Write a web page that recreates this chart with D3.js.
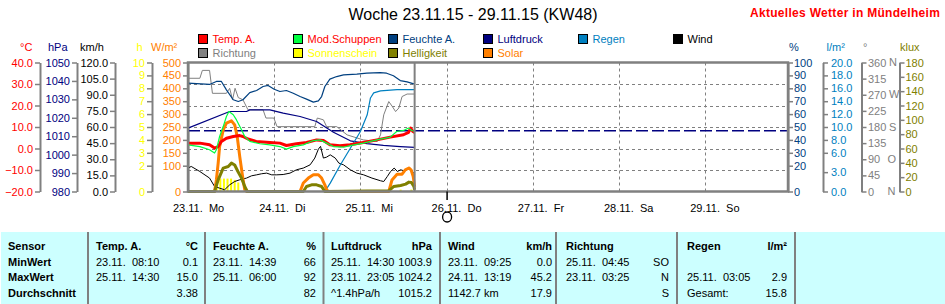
<!DOCTYPE html>
<html>
<head>
<meta charset="utf-8">
<script src="https://cdn.jsdelivr.net/npm/d3@7/dist/d3.min.js"></script>
<style>
  body { margin: 0; background: #fff; }
  svg { display: block; }
</style>
</head>
<body>
<div id="chart"></div>
<script>
///data: [hours since 23.11. 00:00, value]
var tempA = [[0,2.5],[3.3,2.5],[6,1.7],[7.4,0.2],[8.4,0.9],[9.3,3.3],[10.7,4.8],[12.6,5.6],[14.4,6.0],[15.3,5.6],[16.7,4.4],[19,3.3],[22.8,2.8],[25.6,2.5],[27.4,1.4],[30.2,2.2],[33,2.8],[35.8,4.0],[37.7,3.7],[39.5,1.7],[42.3,1.3],[45.1,1.7],[48.8,2.8],[52.6,4.0],[56.3,5.3],[60,6.4],[61.4,7.5],[62,9.5],[62.6,7.9],[63.1,7.5]];
var modSchuppen = [[0,1.7],[3.3,0.9],[6,-0.6],[7.4,-2.1],[7.9,-0.6],[8.8,5.6],[9.8,10.2],[10.7,14.9],[11.4,17.2],[12.6,15.7],[13.5,13.3],[14.9,8.7],[15.8,5.6],[17.2,3.3],[20,2.2],[22.8,1.7],[25.6,0.9],[27.4,-0.3],[29.3,0.9],[32.1,1.7],[34.9,3.7],[36.7,4.0],[38.6,2.5],[40.5,0.9],[43.3,0.6],[45.1,1.3],[48.8,2.5],[52.6,4.0],[56.3,5.3],[58.1,7.9],[60,8.4],[61.4,9.5],[62.3,8.4],[63.1,7.9]];
var feuchteA = [[0,84],[6,83],[7.9,85.3],[9.3,85.3],[10.7,78.8],[12.6,71.1],[14,69.8],[15.3,71.1],[17.2,76.7],[19.1,78.3],[20.9,81.4],[22.3,82.2],[24,79.3],[25.6,77.5],[27.4,78.3],[29.3,76.2],[31.2,73.6],[33,71.6],[34.9,69.3],[36.3,70.3],[37.2,73.6],[38.1,81.4],[39.5,87.1],[41.4,89.1],[43.3,90.4],[47,91],[49.8,91.7],[53.5,92.2],[55.3,91.7],[57.2,89.7],[59.1,86],[61,85],[63.1,83.2]];
var luftdruck = [[0,1014.4],[11.6,1023.4],[16.3,1023.4],[17.2,1024.3],[22.8,1024.3],[26.5,1022.5],[31.2,1020.7],[35.8,1018.0],[40.5,1012.2],[45.2,1007.5],[49.8,1006],[54.4,1005],[59.1,1004.4],[63.1,1003.9]];
var regen = [[0,0],[38.1,0],[39.6,1.3],[42.4,4.1],[45.2,6.7],[48,9.3],[49.9,11.9],[50.8,14.5],[51.7,15.3],[53.6,15.6],[58.2,15.8],[63.1,15.8]];
var wind = [[0,21.8],[0.9,23.3],[3.3,18.6],[6,12.5],[7.4,4.7],[8.8,3.1],[10.2,1.6],[11.6,6.2],[13,9.3],[14.4,10.9],[16.3,12.5],[17.7,14.6],[19.1,15.5],[20.5,16.5],[21.9,17.1],[23.3,15.5],[24.7,15.5],[26.5,15.8],[28.4,17.1],[30.2,20.2],[32.1,21.8],[34,24.8],[35.3,31.1],[36.3,39.4],[36.9,42],[37.7,31.1],[38.6,32],[39.6,34.1],[41,31.1],[42,26.4],[43.3,24.8],[45.2,20.2],[47,17.1],[48.9,15.5],[51.2,12.5],[53.6,10],[54.5,9.3],[55.5,14],[56.4,18.6],[57.4,21.8],[58.3,18.6],[59.2,20.2],[60.1,19.3],[61.1,21.1],[62,20.2],[63.1,16.2]];
var richtung = [[0,316],[3.3,316],[4,338],[6,338],[6.8,274],[10.7,274],[11.6,288],[12.4,256],[13.1,288],[14,262],[15.3,256],[16.7,228],[20.9,228],[21.7,205],[23.9,205],[24.8,181],[35.3,181],[36,205],[37.7,200],[38.6,181],[41.4,181],[44.3,158],[48.8,144],[52.7,139.5],[53.6,158],[54.5,214],[55.9,251],[56.9,237],[57.8,223],[58.7,233],[59.6,265],[61,272],[63.1,272]];
var solar = [[0,0],[7.4,0],[7.9,45],[8.4,110],[8.8,174],[9.8,239],[10.7,265],[12.1,274],[13,258],[13.7,213],[14.4,136],[15.2,58],[15.8,7],[16.3,0],[31.2,0],[32.1,33],[33.5,52],[34.9,65],[36.3,65],[37.2,52],[38.1,26],[38.6,7],[39.1,0],[55.9,0],[56.8,45],[58.2,67],[59.6,67],[60.5,84],[61.5,91],[62.1,84],[62.7,58],[63.1,19]];
var helligkeit = [[0,0],[7.4,0],[8.4,16.3],[9.8,32.6],[11.2,34.9],[12.1,39.6],[13,37],[13.9,27.9],[14.9,18.7],[15.8,7],[16.5,0],[32.1,0],[33,7],[34.4,9.3],[35.8,9.3],[37.2,7],[38.1,0],[55.9,1],[57.3,7],[59.2,8.4],[60.6,10.3],[61.5,13.1],[62.2,12.6],[62.9,7],[63.1,2.4]];
var sonnenschein = [[8,0.6],[9,1.0],[10,1.0],[11,1.0],[12,1.0],[13,0.9],[14,0.7],[59.2,0.15],[62.2,0.15]];

var dayLabels = ["23.11. Mo","24.11. Di","25.11. Mi","26.11. Do","27.11. Fr","28.11. Sa","29.11. So"];
var nowHour = 63.1;
var normalPressure = 1013;

var tableHeads = ["Sensor","Temp. A.","Feuchte A.","Luftdruck","Wind","Richtung","Regen"];
var tableUnits = ["","°C","%","hPa","km/h","","l/m²"];
var rowNames = ["MinWert","MaxWert","Durchschnitt"];
var rowTimes = [
  ["23.11.  08:10","23.11.  14:39","25.11.  14:30","23.11.  09:25","25.11.  04:45",""],
  ["25.11.  14:30","25.11.  06:00","23.11.  23:05","24.11.  13:19","23.11.  03:25","25.11.  03:05"],
  ["","","^1.4hPa/h","1142.7 km","","Gesamt:"]];
var rowValues = [
  ["0.1","66","1003.9","0.0","SO",""],
  ["15.0","92","1024.2","45.2","N","2.9"],
  ["3.38","82","1015.2","17.9","S","15.8"]];

///layout
var width = 945, height = 304;
var font = '"Liberation Sans", Arial, sans-serif';
var gray = '#808080';
var plotLeft = 188, plotRight = 788, plotTop = 62.5, plotBottom = 191.5;

var svg = d3.select('#chart').append('svg')
    .attr('width', width).attr('height', height)
    .style('font-family', font).style('font-size', '11px');

var x = d3.scaleLinear().domain([0, 168]).range([188, 791.4]);
var yRange = [plotBottom, plotTop];
var yTemp = d3.scaleLinear().domain([-20, 40]).range(yRange);
var yHpa = d3.scaleLinear().domain([980, 1050]).range(yRange);
var yKmh = d3.scaleLinear().domain([0, 120]).range(yRange);
var yHours = d3.scaleLinear().domain([0, 10]).range(yRange);
var ySolar = d3.scaleLinear().domain([0, 500]).range(yRange);
var yHum = d3.scaleLinear().domain([0, 100]).range(yRange);
var yRain = d3.scaleLinear().domain([0, 20]).range(yRange);
var yDir = d3.scaleLinear().domain([0, 360]).range(yRange);
var yLux = d3.scaleLinear().domain([0, 180]).range(yRange);

///title
svg.append('text').attr('x', 473).attr('y', 20).attr('text-anchor', 'middle')
    .style('font-size', '16px').text('Woche 23.11.15 - 29.11.15 (KW48)');
svg.append('text').attr('x', 750).attr('y', 17)
    .style('font-size', '12px').style('font-weight', 'bold').style('letter-spacing', '0.3px')
    .attr('fill', '#ff0000').text('Aktuelles Wetter in Mündelheim');

///legend
var legend = [
  ['Temp. A.', '#ff0000', '#ff0000'], ['Mod.Schuppen', '#00ff40', '#ff0000'], ['Feuchte A.', '#004080', '#004080'],
  ['Luftdruck', '#000080', '#000080'], ['Regen', '#0080c0', '#0080c0'], ['Wind', '#000000', '#000000'],
  ['Richtung', gray, gray], ['Sonnenschein', '#ffff00', '#ffff00'], ['Helligkeit', '#808000', '#808000'],
  ['Solar', '#ff8000', '#ff8000']];
var lg = svg.selectAll('g.legend').data(legend).enter().append('g').attr('class', 'legend')
    .attr('transform', (d, i) => `translate(${198 + (i % 6) * 95},${i < 6 ? 34 : 48})`);
lg.append('rect').attr('x', 0.5).attr('y', 0.5).attr('width', 9).attr('height', 9)
    .attr('fill', d => d[1]).attr('stroke', '#000');
lg.append('text').attr('x', 14.5).attr('y', 8.7).attr('fill', d => d[2]).text(d => d[0]);

///axes
function styleAxis(g, color) {
  g.attr('font-size', null).attr('font-family', null);
  g.select('.domain').attr('stroke', gray).attr('stroke-width', 2);
  g.selectAll('.tick line').attr('stroke', gray).attr('stroke-width', 1.5);
  g.selectAll('.tick text').attr('fill', color);
}
function leftAxis(scale, xPos, ticks, fmt, color, unit, unitX) {
  var g = svg.append('g').attr('transform', `translate(${xPos},0)`)
      .call(d3.axisLeft(scale).tickValues(ticks).tickFormat(fmt).tickSize(5).tickSizeOuter(0).tickPadding(2));
  styleAxis(g, color);
  svg.append('text').attr('x', unitX).attr('y', 51).attr('fill', color).text(unit);
}
function rightAxis(scale, xPos, ticks, fmt, color, pad, unit, unitX) {
  var g = svg.append('g').attr('transform', `translate(${xPos},0)`)
      .call(d3.axisRight(scale).tickValues(ticks).tickFormat(fmt).tickSize(5).tickSizeOuter(0).tickPadding(pad));
  styleAxis(g, color);
  svg.append('text').attr('x', unitX).attr('y', 51).attr('fill', color).text(unit);
  return g;
}
leftAxis(yTemp, 40, d3.range(-20, 41, 10), d3.format('.1f'), '#ff0000', '°C', 20);
leftAxis(yHpa, 77, d3.range(980, 1051, 10), d3.format('d'), '#000080', 'hPa', 48);
leftAxis(yKmh, 115, d3.range(0, 121, 15), d3.format('.1f'), '#000000', 'km/h', 80);
leftAxis(yHours, 152, [0, 2, 3, 4, 5, 6, 7, 8, 9, 10], d3.format('d'), '#ffff00', 'h', 136.5);
leftAxis(ySolar, plotLeft, [0, 100, 150, 200, 250, 300, 350, 400, 450, 500], d3.format('d'), '#ff8000', 'W/m²', 151);

rightAxis(yHum, plotRight, [0, 20, 30, 40, 50, 60, 70, 80, 90, 100], d3.format('d'), '#004080', 1, '%', 789);
rightAxis(yRain, 823, [0, 3, 6, 8, 10, 12, 14, 16, 18, 20], d3.format('.1f'), '#0080c0', 3, 'l/m²', 826.5);
var dirTicks = [0, 45, 90, 135, 180, 225, 270, 315, 360];
var dirNames = ['N', '', 'O', '', 'S', '', 'W', '', 'N'];
rightAxis(yDir, 861.5, dirTicks, d3.format('d'), gray, 1.5, '°', 863);
svg.selectAll('text.dirname').data(dirTicks).enter().append('text').attr('class', 'dirname')
    .attr('x', (d, i) => i === 2 || i === 0 ? 887.5 : 889).attr('y', d => yDir(d)).attr('dy', '0.32em')
    .attr('fill', gray).text((d, i) => dirNames[i]);
rightAxis(yLux, 899.5, d3.range(0, 181, 20), d3.format('d'), '#808000', 1, 'klux', 900);

///grid
var grid = svg.append('g').attr('stroke', gray).attr('stroke-dasharray', '3,3').attr('stroke-width', 1);
grid.selectAll('line.h').data([-10, 0, 10, 20, 30]).enter().append('line')
    .attr('x1', plotLeft).attr('x2', plotRight)
    .attr('y1', d => Math.round(yTemp(d)) + 0.5).attr('y2', d => Math.round(yTemp(d)) + 0.5);
grid.selectAll('line.v').data(d3.range(1, 7)).enter().append('line')
    .attr('x1', d => Math.round(x(d * 24)) + 0.5).attr('x2', d => Math.round(x(d * 24)) + 0.5)
    .attr('y1', plotTop).attr('y2', plotBottom);

svg.append('line').attr('x1', plotLeft).attr('x2', plotRight)
    .attr('y1', yHpa(normalPressure)).attr('y2', yHpa(normalPressure))
    .attr('stroke', '#000080').attr('stroke-width', 1.5).attr('stroke-dasharray', '12,4');

///x labels
svg.selectAll('text.day').data(dayLabels).enter().append('text').attr('class', 'day')
    .attr('x', (d, i) => x(i * 24) - 15).attr('y', 211.5)
    .style('white-space', 'pre').text(d => d.replace('. ', '.  '));

///series
svg.selectAll('rect.sun').data(sonnenschein).enter().append('rect').attr('class', 'sun')
    .attr('x', d => x(d[0]) - 1).attr('width', 2)
    .attr('y', d => yHours(d[1])).attr('height', d => plotBottom - yHours(d[1]))
    .attr('fill', '#ffff00');

function drawLine(data, scale, color, w) {
  svg.append('path').datum(data)
      .attr('d', d3.line().x(d => x(d[0])).y(d => scale(d[1])))
      .attr('fill', 'none').attr('stroke', color).attr('stroke-width', w)
      .attr('stroke-linejoin', 'round');
}
drawLine(richtung, yDir, gray, 1);
drawLine(wind, yKmh, '#000000', 1);
drawLine(feuchteA, yHum, '#004080', 1.2);
drawLine(luftdruck, yHpa, '#000080', 1.2);
drawLine(regen, yRain, '#0080c0', 1.2);
drawLine(solar, ySolar, '#ff8000', 3);
drawLine(helligkeit, yLux, '#808000', 3);
drawLine(tempA, yTemp, '#ff0000', 3);
drawLine(modSchuppen, yTemp, '#00ff40', 1.2);

///frame and now line
svg.append('rect').attr('x', plotLeft).attr('y', plotTop).attr('width', plotRight - plotLeft)
    .attr('height', plotBottom - plotTop).attr('fill', 'none').attr('stroke', gray).attr('stroke-width', 2.5);
svg.append('line').attr('x1', x(nowHour)).attr('x2', x(nowHour)).attr('y1', plotTop).attr('y2', plotBottom)
    .attr('stroke', gray).attr('stroke-width', 2);

// marker under 26.11.
svg.append('line').attr('x1', x(72) + 0.5).attr('x2', x(72) + 0.5).attr('y1', plotBottom).attr('y2', 200)
    .attr('stroke', '#000').attr('stroke-width', 1.5);
svg.append('ellipse').attr('cx', x(72) + 0.5).attr('cy', 217).attr('rx', 4.5).attr('ry', 5)
    .attr('fill', 'none').attr('stroke', '#000').attr('stroke-width', 1.3);

///table
var tableTop = 232;
var sepX = [88, 205, 323.5, 440, 556, 677, 795];
var colLeft = [8, 96, 213, 331, 448, 566, 687];
var colRight = [0, 198, 316, 432, 552, 669, 787];
var rowY = [249.5, 265.5, 280.5, 296.5];

svg.append('rect').attr('x', 1).attr('y', tableTop).attr('width', width - 1).attr('height', height - tableTop)
    .attr('fill', '#ccffff');
svg.selectAll('line.sep').data(sepX).enter().append('line')
    .attr('x1', d => d).attr('x2', d => d).attr('y1', tableTop).attr('y2', height)
    .attr('stroke', gray).attr('stroke-width', 2);

svg.selectAll('text.head').data(tableHeads).enter().append('text')
    .attr('x', (d, i) => colLeft[i]).attr('y', rowY[0]).style('font-weight', 'bold').text(d => d);
svg.selectAll('text.unit').data(tableUnits).enter().append('text')
    .attr('x', (d, i) => colRight[i]).attr('y', rowY[0]).attr('text-anchor', 'end')
    .style('font-weight', 'bold').text(d => d);
rowNames.forEach(function (name, r) {
  svg.append('text').attr('x', colLeft[0]).attr('y', rowY[r + 1]).style('font-weight', 'bold').text(name);
  rowTimes[r].forEach(function (t, c) {
    svg.append('text').attr('x', colLeft[c + 1]).attr('y', rowY[r + 1]).style('white-space', 'pre').text(t);
  });
  rowValues[r].forEach(function (v, c) {
    svg.append('text').attr('x', colRight[c + 1]).attr('y', rowY[r + 1]).attr('text-anchor', 'end').text(v);
  });
});
</script>
</body>
</html>
